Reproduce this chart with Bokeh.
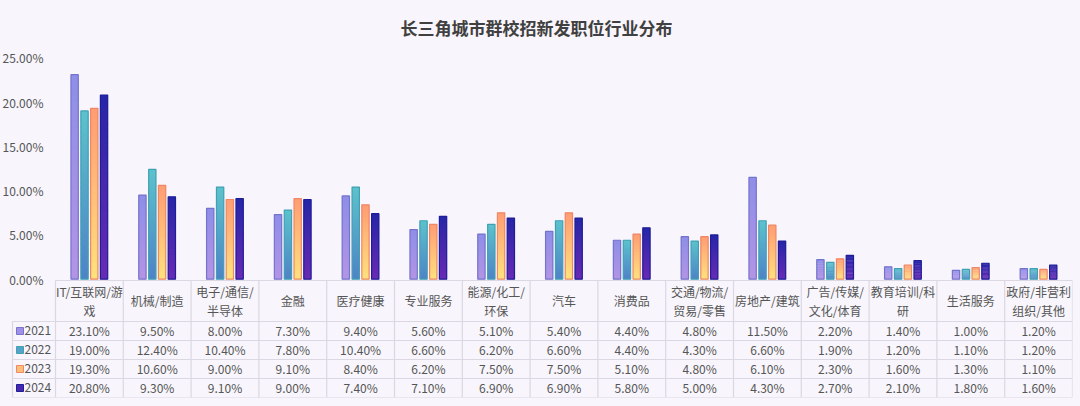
from bokeh.plotting import figure
from bokeh.models import (ColumnDataSource, Range1d, FixedTicker,
                          PrintfTickFormatter, GlobalInlineStyleSheet)
from bokeh.core.properties import value
from bokeh.embed import file_html
from bokeh.resources import INLINE

# ---- data ----
categories = ["IT/互联网/游戏", "机械/制造", "电子/通信/半导体", "金融", "医疗健康",
              "专业服务", "能源/化工/环保", "汽车", "消费品", "交通/物流/贸易/零售",
              "房地产/建筑", "广告/传媒/文化/体育", "教育培训/科研", "生活服务",
              "政府/非营利组织/其他"]
# header labels as they wrap in the table
header_labels = ["IT/互联网/游\n戏", "机械/制造", "电子/通信/\n半导体", "金融", "医疗健康",
                 "专业服务", "能源/化工/\n环保", "汽车", "消费品", "交通/物流/\n贸易/零售",
                 "房地产/建筑", "广告/传媒/\n文化/体育", "教育培训/科\n研", "生活服务",
                 "政府/非营利\n组织/其他"]
years = ["2021", "2022", "2023", "2024"]
y2021 = [23.1, 9.5, 8.0, 7.3, 9.4, 5.6, 5.1, 5.4, 4.4, 4.8, 11.5, 2.2, 1.4, 1.0, 1.2]
y2022 = [19.0, 12.4, 10.4, 7.8, 10.4, 6.6, 6.2, 6.6, 4.4, 4.3, 6.6, 1.9, 1.2, 1.1, 1.2]
y2023 = [19.3, 10.6, 9.0, 9.1, 8.4, 6.2, 7.5, 7.5, 5.1, 4.8, 6.1, 2.3, 1.6, 1.3, 1.1]
y2024 = [20.8, 9.3, 9.1, 9.0, 7.4, 7.1, 6.9, 6.9, 5.8, 5.0, 4.3, 2.7, 2.1, 1.8, 1.6]
y_ticks = [0, 5, 10, 15, 20, 25]

series = [y2021, y2022, y2023, y2024]

# bottom colour, top colour, border colour per year
styles = [
    ("#b494e4", "#8e8ee8", "#7474cc"),
    ("#4f82c8", "#5cc2cc", "#3fa2b2"),
    ("#ffe27e", "#ff9c74", "#ee8866"),
    ("#6a2ab4", "#2626a8", "#1e1e98"),
]
offsets = [-0.218, -0.072, 0.072, 0.216]
BAR_W = 0.108

BG = "#f8f5fc"
GRID = "#dcd8e3"
TXT = "#555555"
FONT = "Noto Sans CJK SC"
FS = "12px"


def mix(c1, c2, t):
    a = [int(c1[i:i + 2], 16) for i in (1, 3, 5)]
    b = [int(c2[i:i + 2], 16) for i in (1, 3, 5)]
    return "#%02x%02x%02x" % tuple(round(a[k] + (b[k] - a[k]) * t) for k in range(3))


# ---- geometry (page margin removed, canvas fills the window) ----
W, H = 1080, 406
TOP, BOTTOM = 45, 9
Y0, Y1 = -13.36, 26.39
UNIT = (H - TOP - BOTTOM) / (Y1 - Y0)   # pixels per percent point
COL = 67.8                              # pixels per category column
LEG_W = 43 / COL                        # legend column width in category units
X0 = -0.5 - 55 / COL                    # frame starts at the canvas edge

p = figure(width=W, height=H, output_backend="svg", toolbar_location=None,
           x_range=Range1d(X0, 14.5), y_range=Range1d(Y0, Y1),
           min_border_left=0, min_border_right=8, min_border_top=TOP,
           min_border_bottom=BOTTOM, tools="")
p.background_fill_color = BG
p.border_fill_color = BG
p.outline_line_color = None
p.xgrid.visible = False
p.ygrid.visible = False
p.xaxis.visible = False
p.stylesheets = [GlobalInlineStyleSheet(
    css="html, body { margin: 0; padding: 0; overflow: hidden; background: %s; }" % BG)]

p.title.text = "长三角城市群校招新发职位行业分布"
p.title.align = "center"
p.title.text_font = FONT
p.title.text_font_size = "17px"
p.title.text_font_style = "bold"
p.title.text_color = "#404040"
p.title.standoff = 12

yax = p.yaxis[0]
yax.fixed_location = -0.5
yax.ticker = FixedTicker(ticks=y_ticks)
yax.formatter = PrintfTickFormatter(format="%.2f%%")
yax.axis_line_color = None
yax.major_tick_line_color = None
yax.minor_tick_line_color = None
yax.major_label_standoff = 6
yax.major_label_text_font = FONT
yax.major_label_text_font_size = FS
yax.major_label_text_color = TXT

# ---- gradient bars ----
N = 30
for vals, off, (c_bot, c_top, c_line) in zip(series, offsets, styles):
    xs, bots, tops, cols = [], [], [], []
    for i, v in enumerate(vals):
        for k in range(N):
            xs.append(i + off)
            bots.append(v * k / N)
            tops.append(v * min(k + 1.6, N) / N)
            cols.append(mix(c_bot, c_top, (k + 0.5) / N))
    src = ColumnDataSource(data=dict(x=xs, bottom=bots, top=tops, color=cols))
    p.vbar(x="x", bottom="bottom", top="top", width=BAR_W, source=src,
           fill_color="color", line_color=None)
    p.vbar(x=[i + off for i in range(len(vals))], top=vals, bottom=0,
           width=BAR_W, fill_color=None, line_color=c_line, line_width=1.2)

# ---- data table ----
t_top = -1.3 / UNIT
head_bot = t_top - 41 / UNIT
row_h = 19 / UNIT
t_bot = head_bot - row_h * len(years)
x_left = -0.5 - LEG_W
n = len(categories)

hx0, hx1, hy = [-0.5], [n - 0.5], [t_top]
for r in range(len(years) + 1):
    hx0.append(x_left)
    hx1.append(n - 0.5)
    hy.append(head_bot - r * row_h)
p.segment(x0=hx0, x1=hx1, y0=hy, y1=hy, line_color=GRID, line_width=1.2)

vx = [-0.5 + i for i in range(n + 1)] + [x_left]
vy0 = [t_top] * (n + 1) + [head_bot]
vy1 = [t_bot] * (n + 2)
p.segment(x0=vx, x1=vx, y0=vy0, y1=vy1, line_color=GRID, line_width=1.2)

# header cells: one text per line, block centred in the cell
head_mid = (t_top + head_bot) / 2
hx, hyy, ht = [], [], []
for i, lab in enumerate(header_labels):
    lines = lab.split("\n")
    for j, ln in enumerate(lines):
        hx.append(i)
        hyy.append(head_mid - (j - (len(lines) - 1) / 2) * 19 / UNIT)
        ht.append(ln)
p.text(x=hx, y=hyy, text=ht, text_align="center", text_baseline="middle",
       text_font=value(FONT), text_font_size=FS, text_color=TXT)

for r, (yr, vals, st) in enumerate(zip(years, series, styles)):
    yc = head_bot - (r + 0.5) * row_h
    p.text(x=list(range(n)), y=[yc] * n, text=["%.2f%%" % v for v in vals],
           text_align="center", text_baseline="middle", text_font=value(FONT),
           text_font_size=FS, text_color=TXT)
    p.rect(x=[x_left + 7.5 / COL], y=[yc], width=7, height=7,
           width_units="screen", height_units="screen",
           fill_color=mix(st[0], st[1], 0.5), line_color=st[2], line_width=1)
    p.text(x=[x_left + 12 / COL], y=[yc], text=[yr],
           text_align="left", text_baseline="middle", text_font=value(FONT),
           text_font_size=FS, text_color=TXT)

open("out.html", "w").write(file_html(p, INLINE))
